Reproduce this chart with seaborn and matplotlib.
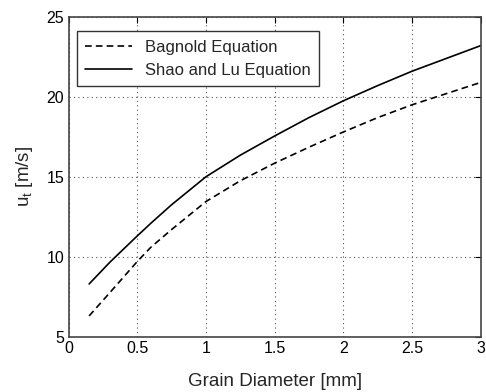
import numpy as np
import pandas as pd
import seaborn as sns
import matplotlib
matplotlib.use("Agg")
import matplotlib.pyplot as plt

# Threshold friction velocity vs. grain diameter for two formulations
diameter_mm = [0.15, 0.3, 0.5, 0.6, 0.75, 0.9, 1.0, 1.25, 1.5, 1.75, 2.0, 2.25, 2.5, 2.75, 3.0]
bagnold_ut = [6.3, 7.75, 9.7, 10.6, 11.7, 12.75, 13.45, 14.75, 15.85, 16.85, 17.8, 18.7, 19.5, 20.2, 20.9]
shao_lu_ut = [8.3, 9.65, 11.3, 12.1, 13.25, 14.3, 15.0, 16.35, 17.55, 18.7, 19.75, 20.7, 21.6, 22.4, 23.2]
series_names = ["Bagnold Equation", "Shao and Lu Equation"]
x_ticks = [0, 0.5, 1, 1.5, 2, 2.5, 3]
y_ticks = [5, 10, 15, 20, 25]

sns.set_style("white")
plt.rcParams["font.family"] = ["Liberation Sans", "DejaVu Sans"]
plt.rcParams["mathtext.fontset"] = "custom"
plt.rcParams["mathtext.rm"] = "Liberation Sans"
plt.rcParams["mathtext.it"] = "Liberation Sans"

df = pd.DataFrame({
    "d": diameter_mm * 2,
    "ut": bagnold_ut + shao_lu_ut,
    "eq": [series_names[0]] * len(diameter_mm) + [series_names[1]] * len(diameter_mm),
})

fig = plt.figure(figsize=(4.86, 3.92), dpi=100)
ax = fig.add_axes([0.141, 0.141, 0.848, 0.816])

sns.lineplot(data=df, x="d", y="ut", hue="eq", style="eq",
             palette=["black", "black"],
             dashes={series_names[0]: (4, 2.5), series_names[1]: ""},
             linewidth=1.2, ax=ax, legend=True)

ax.set_xlim(0, 3)
ax.set_ylim(5, 25)
ax.set_xticks(x_ticks)
ax.set_xticklabels([f"{t:g}" for t in x_ticks])
ax.set_yticks(y_ticks)
ax.tick_params(direction="in", top=True, right=True, length=4, width=0.8,
               labelsize=11.5, colors="black", pad=3)
ax.grid(True, linestyle=(0, (1, 3)), color="#555555", linewidth=0.8)
for s in ax.spines.values():
    s.set_color("#444444")
    s.set_linewidth(1.2)

ax.set_xlabel("Grain Diameter [mm]", fontsize=13.5, labelpad=12)
ax.set_ylabel("u$_\\mathregular{t}$ [m/s]", fontsize=13.5, labelpad=8)

leg = ax.legend(loc="upper left", fontsize=12, frameon=True, fancybox=False,
                edgecolor="#333333", framealpha=1, borderpad=0.5,
                labelspacing=0.5, handlelength=2.8, borderaxespad=0,
                bbox_to_anchor=(0.02, 0.955))
leg.get_frame().set_linewidth(1.0)

fig.savefig("out.png", dpi=100)
